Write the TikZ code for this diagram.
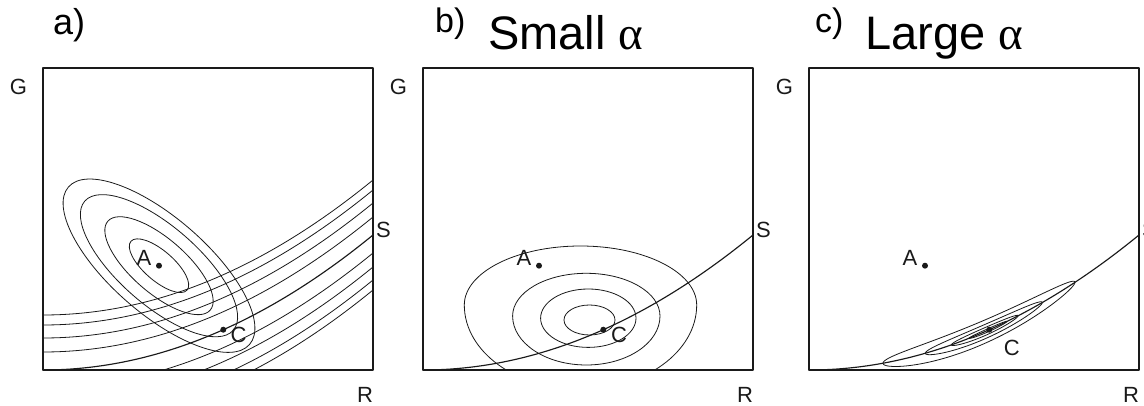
\documentclass[tikz,border=0pt]{standalone}
\usepackage{fontspec}
\setmainfont{Liberation Sans}
\newfontfamily\greekfont{Liberation Serif}
\definecolor{plotink}{HTML}{1A1A1A}
\tikzset{
  frame box/.style={plotink, line width=1.1pt},
  level line/.style={plotink, line width=0.8pt},
  budget line/.style={plotink, line width=1.15pt},
  opt dot/.style={fill=plotink, circle, inner sep=0pt, minimum size=6pt},
  axis tag/.style={plotink, font=\fontsize{22}{22}\selectfont, inner sep=0pt},
  panel tag/.style={font=\fontsize{34}{34}\selectfont, inner sep=0pt, anchor=base west},
  panel title/.style={font=\fontsize{47}{47}\selectfont, inner sep=0pt, anchor=base west},
}

\begin{document}
\begin{tikzpicture}[x=1pt, y=1pt, line cap=round, line join=round,
    declare function={bud(\r)=135*(\r/330)^2;}]
  \useasboundingbox (0,0) rectangle (1144,405);

  % a) shifted budget curves and tilted ellipses round A
  \begin{scope}[shift={(43,35)}]
    \clip (0,0) rectangle (330,302);
    \foreach \k in {18,32,45,55} {
      \draw[level line] plot[domain=0:330, samples=60] (\x,{bud(\x)+\k});
      \draw[level line] plot[domain=0:330, samples=60] (\x,{bud(\x)-\k});
    }
    \foreach \s in {1,0.82,0.565,0.31}
      \draw[level line, rotate around={-41:(116,104.3)}]
        (116,104.3) ellipse [x radius={\s*120pt}, y radius={\s*48pt}];
  \end{scope}

  % b) round contours near C
  \begin{scope}[shift={(423,35)}]
    \clip (0,0) rectangle (330,302);
    \draw[level line] (273.7,65)
      arc[start angle=0, end angle=180, x radius=116.2pt, y radius=59pt]
      arc[start angle=180, end angle=360, x radius=116.2pt, y radius=84.5pt];
    \draw[level line] (237,54)
      arc[start angle=0, end angle=180, x radius=73.7pt, y radius=42.7pt]
      arc[start angle=180, end angle=360, x radius=73.7pt, y radius=49pt];
    \draw[level line] (165.3,51.8) ellipse [x radius=47.7pt, y radius=29.2pt];
    \draw[level line] (166.5,50) ellipse [x radius=25.5pt, y radius=15pt];
  \end{scope}

  % c) thin contours hugging S
  \begin{scope}[shift={(809,35)}]
    \foreach \cx/\hl/\hw in {170/96/11.7, 174.8/58.5/7.2, 175.8/33.3/4, 179/19/1.6}
      \draw[level line] plot[domain=0:360, samples=120, variable=\t, smooth]
        ({\cx+\hl*cos(\t)},{bud(\cx+\hl*cos(\t))+\hw*sin(\t)}) -- cycle;
  \end{scope}

  % frame, S curve and points, same in all panels
  \foreach \px/\pn/\lx/\ly in {43/a/195.5/35, 423/b/196/35, 809/c/202.7/21.7} {
    \begin{scope}[shift={(\px,35)}]
      \draw[frame box] (0,0) rectangle (330,302);
      \draw[budget line] plot[domain=0:330, samples=80] (\x,{bud(\x)});
      \node[axis tag] (G-\pn) at (-24.5,283) {G};
      \node[axis tag] (R-\pn) at (322,-25) {R};
      \node[axis tag] (S-\pn) at (340.5,140) {S};
      \node[opt dot] (A-\pn) at (116,104.3) {};
      \node[axis tag] (lA-\pn) at (101,111.7) {A};
      \node[opt dot] (C-\pn) at (180.3,40.3) {};
      \node[axis tag] (lC-\pn) at (\lx,\ly) {C};
    \end{scope}
  }

  \node[panel tag, font=\fontsize{36}{36}\selectfont] (tag-a) at (53,370) {a)};
  \node[panel tag] (tag-b) at (435,372) {b)};
  \node[panel title] (title-b) at (488,355) {Small {\greekfont α}};
  \node[panel tag] (tag-c) at (815,372) {c)};
  \node[panel title] (title-c) at (865,355) {Large {\greekfont α}};
\end{tikzpicture}
\end{document}
